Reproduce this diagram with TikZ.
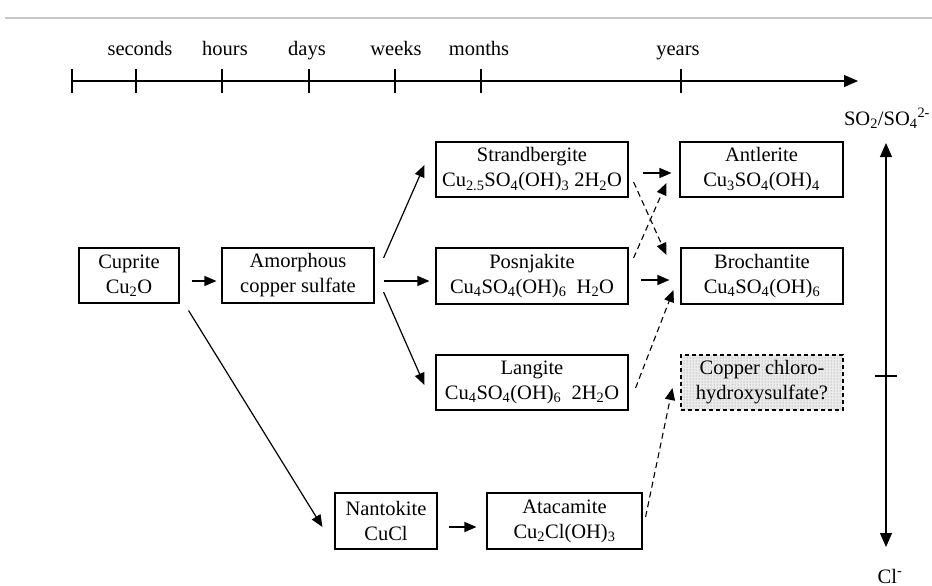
\documentclass[tikz,border=0pt]{standalone}
\usepackage{fontspec}
\setmainfont{Liberation Serif}
\usetikzlibrary{arrows.meta,calc,patterns}
\tikzset{
  box/.style={draw, line width=1.1pt, rectangle, inner sep=0pt, align=center,
    font=\fontsize{20.5}{25}\selectfont},
  arr/.style={line width=1.2pt, -{Triangle[length=12pt,width=10pt]}},
  darr/.style={line width=1.1pt, dash pattern=on 6pt off 4pt, -{Triangle[length=12pt,width=10pt]}},
  lbl/.style={font=\fontsize{20.5}{25}\selectfont, inner sep=0pt},
}
\newcommand{\sub}[1]{\textsubscript{#1}}
\begin{document}
\begin{tikzpicture}[x=1pt,y=-1pt]
\useasboundingbox (0,0) rectangle (932,586);
% top gray rule
\draw[line width=1.8pt, color=black!22] (5,18) -- (932,18);
% timeline
\coordinate (tl0) at (72,81);
\coordinate (tl1) at (858,81);
\draw[line width=1.2pt, -{Triangle[length=14pt,width=12pt]}] (tl0) -- (tl1);
\foreach \x in {72,136,222,309,395,481,681}{
  \draw[line width=1.1pt] (\x,69) -- (\x,93);
}
\node[lbl, anchor=base] (t1) at (140,56) {seconds};
\node[lbl, anchor=base] (t2) at (225,56) {hours};
\node[lbl, anchor=base] (t3) at (307,56) {days};
\node[lbl, anchor=base] (t4) at (396,56) {weeks};
\node[lbl, anchor=base] (t5) at (479,56) {months};
\node[lbl, anchor=base] (t6) at (678,56) {years};
% boxes
\node[box, minimum width=100pt, minimum height=55pt] (cuprite) at (129,275.5) {Cuprite\\Cu\sub{2}O};
\node[box, minimum width=152pt, minimum height=55pt] (amorph) at (298,275.5) {Amorphous\\copper sulfate};
\node[box, minimum width=192pt, minimum height=55pt] (strand) at (532,169.5) {Strandbergite\\Cu\sub{2.5}SO\sub{4}(OH)\sub{3} 2H\sub{2}O};
\node[box, minimum width=192pt, minimum height=56pt] (posnj) at (532,276) {Posnjakite\\Cu\sub{4}SO\sub{4}(OH)\sub{6}\ \ H\sub{2}O};
\node[box, minimum width=192pt, minimum height=55pt] (langite) at (532,382.5) {Langite\\Cu\sub{4}SO\sub{4}(OH)\sub{6}\ \ 2H\sub{2}O};
\node[box, minimum width=163pt, minimum height=55pt] (antler) at (761.5,169.5) {Antlerite\\Cu\sub{3}SO\sub{4}(OH)\sub{4}};
\node[box, minimum width=162pt, minimum height=56pt] (broch) at (762,276) {Brochantite\\Cu\sub{4}SO\sub{4}(OH)\sub{6}};
\node[box, minimum width=162pt, minimum height=55pt, dash pattern=on 4pt off 3pt,
  preaction={fill=black!8}, pattern=dots, pattern color=black!45] (copper) at (762,382.5) {Copper chloro-\\hydroxysulfate?};
\node[box, minimum width=102pt, minimum height=56pt] (nanto) at (386,521) {Nantokite\\CuCl};
\node[box, minimum width=155pt, minimum height=56pt] (ataca) at (564.5,521) {Atacamite\\Cu\sub{2}Cl(OH)\sub{3}};
% solid arrows
\draw[arr] ($(cuprite.east)+(12,5.5)$) -- ($(amorph.west)+(-5,5.5)$);
\draw[arr] ($(amorph.east)+(9,-17.5)$) -- ($(strand.west)+(-11,-4.5)$);
\draw[arr] ($(amorph.east)+(9,5.5)$) -- ($(posnj.west)+(-6,5)$);
\draw[arr] ($(amorph.east)+(9,16.5)$) -- ($(langite.west)+(-11,2.5)$);
\draw[arr] ($(cuprite.south east)+(9,7)$) -- ($(nanto.west)+(-12,6)$);
\draw[arr] ($(nanto.east)+(11,6)$) -- ($(ataca.west)+(-10,6)$);
\draw[arr] ($(strand.east)+(14,3.5)$) -- ($(antler.west)+(-8,3.5)$);
\draw[arr] ($(posnj.east)+(12,4)$) -- ($(broch.west)+(-11,4)$);
% dashed arrows
\draw[darr] ($(strand.east)+(5,12.5)$) -- ($(broch.west)+(-14,-21)$);
\draw[darr] ($(posnj.east)+(5,-18)$) -- ($(antler.west)+(-13,13.5)$);
\draw[darr] ($(langite.east)+(7,5.5)$) -- ($(broch.west)+(-7,14)$);
\draw[darr] ($(ataca.east)+(3,-4)$) -- ($(copper.west)+(-8,5.5)$);
% right scale
\coordinate (vtop) at (886,143);
\coordinate (vbot) at (886,547);
\draw[line width=1.2pt, {Triangle[length=14pt,width=12pt]}-{Triangle[length=14pt,width=12pt]}] (vtop) -- (vbot);
\draw[line width=1.1pt] (875,376) -- (897,376);
\node[lbl, anchor=base] (so) at (887,125) {SO\sub{2}/SO\sub{4}\textsuperscript{2-}};
\node[lbl, anchor=base] (cl) at (890,583) {Cl\textsuperscript{-}};
\end{tikzpicture}
\end{document}
